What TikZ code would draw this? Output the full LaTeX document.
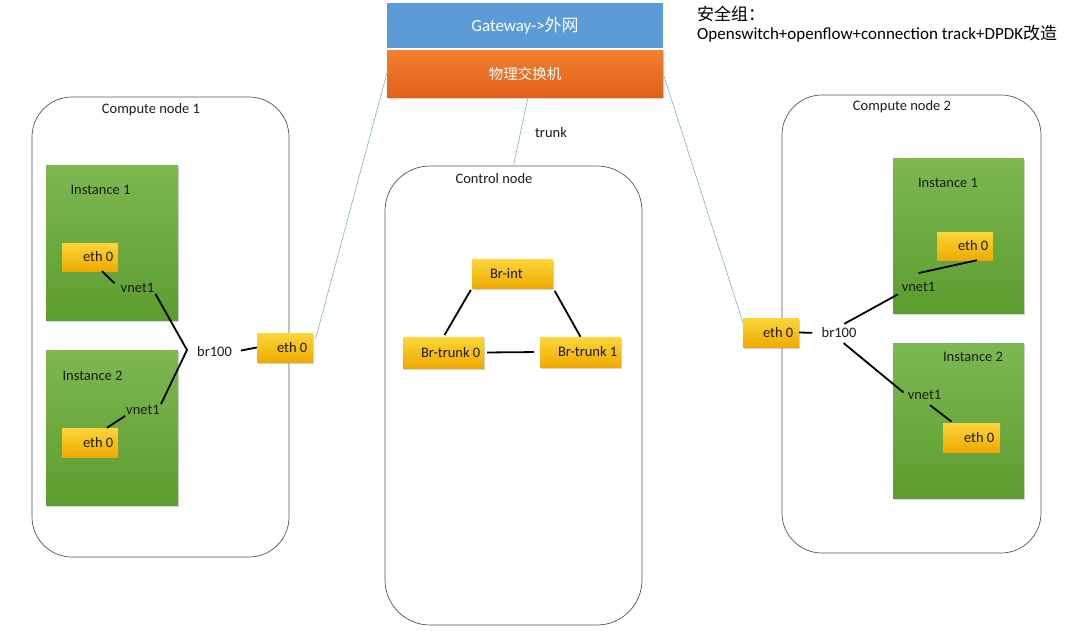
\documentclass[tikz,border=0pt]{standalone}
\usepackage{fontspec}
\setmainfont{Carlito}
\newfontfamily\cjk{Noto Sans CJK SC}
\usetikzlibrary{shadows}
\definecolor{edgegray}{HTML}{555555}
\definecolor{ink}{HTML}{1C1C1C}
\definecolor{gwblue}{HTML}{5A9BD8}
\definecolor{swtop}{HTML}{F2802F}
\definecolor{swbot}{HTML}{E2601A}
\definecolor{ytop}{HTML}{FCD63A}
\definecolor{ybot}{HTML}{EFAA00}
\definecolor{gtop}{HTML}{7DB851}
\definecolor{gbot}{HTML}{5C9D2F}
\definecolor{wire}{HTML}{8DB8E0}
\begin{document}
\begin{tikzpicture}[x=1pt,y=-1pt,
  font=\fontsize{14.5}{17}\selectfont, text=ink,
  container/.style={draw=edgegray, line width=0.7pt, rounded corners=#1, inner sep=0pt},
  instbox/.style={top color=gtop, bottom color=gbot, inner sep=0pt,
    drop shadow={shadow xshift=1.2pt, shadow yshift=-1.5pt, opacity=0.3}},
  ybox/.style={top color=ytop, bottom color=ybot, inner sep=0pt,
    drop shadow={shadow xshift=1.2pt, shadow yshift=-1.5pt, opacity=0.35}},
  tin/.style={anchor=west, inner sep=0pt, xshift=#1, text=ink},
  txt/.style={inner sep=1pt},
  link/.style={draw=black, line width=1.8pt},
  uplink/.style={draw=wire, line width=0.7pt}]
\useasboundingbox (0,0) rectangle (1080,630);

% gateway and physical switch
\node[fill=gwblue, minimum width=276pt, minimum height=45pt, inner sep=0pt,
      text=white, font=\fontsize{17}{19}\selectfont] (gw) at (525,25.5) {Gateway->{\cjk 外网}};
\node[top color=swtop, bottom color=swbot, minimum width=276pt, minimum height=47pt, inner sep=0pt,
      drop shadow={shadow xshift=1.2pt, shadow yshift=-1.8pt, opacity=0.35},
      text=white, font=\cjk\fontsize{14.5}{17}\selectfont] (sw) at (525,73.5) {物理交换机};

% note on the security group
\node[anchor=north west, align=left, inner sep=0pt, text=black,
      font=\fontsize{17}{18.5}\selectfont] (note) at (697,6)
  {{\cjk 安全组：}\\Openswitch+openflow+connection track+DPDK{\cjk 改造}};

% ---------- compute node 1 ----------
\node[container=40pt, minimum width=257pt, minimum height=460pt] (cn1) at (160.5,327) {};
\node[txt] (cn1t) at (151,110) {Compute node 1};
\node[instbox, minimum width=132pt, minimum height=155pt] (i11) at (112,242.5) {};
\node[txt] (i11t) at (100.5,190) {Instance 1};
\node[instbox, minimum width=132pt, minimum height=155pt] (i12) at (112,427.5) {};
\node[txt] (i12t) at (92.5,376) {Instance 2};
\node[ybox, minimum width=56pt, minimum height=28pt, label={[tin=21pt]west:eth 0}] (e11) at (90,257) {};
\node[ybox, minimum width=56pt, minimum height=29pt, label={[tin=21pt]west:eth 0}] (e12) at (90,442.5) {};
\node[ybox, minimum width=56pt, minimum height=29pt, label={[tin=20pt]west:eth 0}] (e1x) at (285,347.5) {};
\node[txt] (v11) at (137.5,288) {vnet1};
\node[txt] (v12) at (143,410) {vnet1};
\node[txt] (br1) at (214.5,352) {br100};
\coordinate (br1c) at (187,350);

\draw[link, shorten >=7pt] ([xshift=12pt]e11.south) -- (v11.west);
\draw[link] (v11.south east) -- (br1c) -- (v12.north east);
\draw[link] (v12.south west) -- ([xshift=17pt]e12.north);
\draw[link, shorten <=8pt] (br1.east) -- (e1x.west);

% ---------- control node ----------
\node[container=45pt, minimum width=257pt, minimum height=459pt] (ctrl) at (513.5,395.5) {};
\node[txt] (ctrlt) at (494,179) {Control node};
\node[ybox, minimum width=81pt, minimum height=29pt, label={[tin=18pt]west:Br-int}] (bint) at (512.5,273.5) {};
\node[ybox, minimum width=81pt, minimum height=31pt, label={[tin=18pt]west:Br-trunk 0}] (bt0) at (443.5,352.5) {};
\node[ybox, minimum width=81pt, minimum height=30pt, label={[tin=18pt]west:Br-trunk 1}] (bt1) at (580.5,352) {};
\draw[link, shorten <=2pt, shorten >=2pt] (bint.south west) -- (bt0.north);
\draw[link, shorten <=3pt] (bint.south east) -- (bt1.north);
\draw[link, shorten <=3pt, shorten >=6pt] (bt0.east) -- (bt1.west);

% ---------- compute node 2 ----------
\node[container=40pt, minimum width=259pt, minimum height=458pt] (cn2) at (911.5,324) {};
\node[txt] (cn2t) at (902,107) {Compute node 2};
\node[instbox, minimum width=131pt, minimum height=155pt] (i21) at (958.5,235.5) {};
\node[txt] (i21t) at (948,183) {Instance 1};
\node[instbox, minimum width=131pt, minimum height=155pt] (i22) at (958.5,420.5) {};
\node[txt] (i22t) at (973,357) {Instance 2};
\node[ybox, minimum width=56pt, minimum height=28pt, label={[tin=21pt]west:eth 0}] (e21) at (965,246) {};
\node[ybox, minimum width=57pt, minimum height=29pt, label={[tin=21pt]west:eth 0}] (e22) at (971.5,437.5) {};
\node[ybox, minimum width=56pt, minimum height=29pt, label={[tin=20pt]west:eth 0}] (e2x) at (771,332.5) {};
\node[txt] (v21) at (918.5,287) {vnet1};
\node[txt] (v22) at (924.5,395) {vnet1};
\node[txt] (br2) at (839,333) {br100};

\draw[link, shorten >=8pt] (e2x.east) -- (br2.west);
\draw[link, shorten <=6pt, shorten >=3pt] (br2.north) -- (v21.south west);
\draw[link] ([xshift=12pt]e21.south) -- ([yshift=8pt]v21.north);
\draw[link, shorten <=6pt, shorten >=4pt] (br2.south) -- (v22.west);
\draw[link, shorten <=7pt, shorten >=2pt] (v22.south) -- ([xshift=-18.5pt]e22.north);

% ---------- uplinks to the physical switch ----------
\draw[uplink, shorten >=9pt] (sw.west) -- (e1x.east);
\draw[uplink] (sw.east) -- (e2x.160);
\draw[uplink] ([xshift=3pt]sw.south) -- (ctrl.north);
\node[txt] (trunk) at (551,133) {trunk};
\end{tikzpicture}
\end{document}
